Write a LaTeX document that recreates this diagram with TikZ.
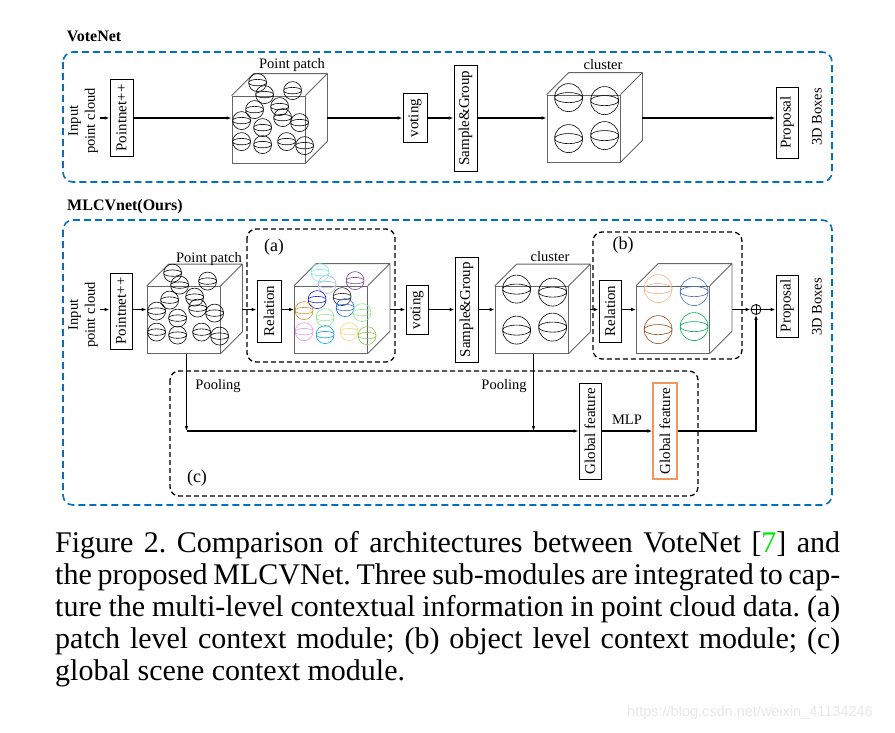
\documentclass[tikz,border=0pt]{standalone}
\usepackage{fontspec}
\setmainfont{Liberation Serif}
\setsansfont{Liberation Sans}
\usepackage{graphicx}
\usetikzlibrary{arrows.meta,calc}
\definecolor{vblue}{RGB}{0,112,192}
\definecolor{lgreen}{RGB}{0,230,0}
\definecolor{gforange}{RGB}{240,150,95}
\definecolor{sa}{RGB}{120,235,240}
\definecolor{sb}{RGB}{170,190,220}
\definecolor{sc}{RGB}{130,60,160}
\definecolor{sd}{RGB}{30,30,220}
\definecolor{se}{RGB}{40,40,40}
\definecolor{sf}{RGB}{40,110,220}
\definecolor{sg}{RGB}{150,230,150}
\definecolor{sh}{RGB}{200,150,40}
\definecolor{si}{RGB}{240,150,240}
\definecolor{sj}{RGB}{20,160,230}
\definecolor{sk}{RGB}{250,210,130}
\definecolor{sl}{RGB}{140,200,80}
\definecolor{ta}{RGB}{244,177,131}
\definecolor{tb}{RGB}{68,114,196}
\definecolor{tc}{RGB}{150,80,30}
\definecolor{td}{RGB}{0,176,80}
\newcommand\cubeback[1]{%
  \draw[cubeline] (#1.north west) -- ++(22,-22) -- ($(#1.north east)+(22,-22)$) -- (#1.north east)
    ($(#1.north east)+(22,-22)$) -- ($(#1.south east)+(22,-22)$) -- (#1.south east);
  \coordinate (#1r) at ($(#1.east)+(22,0)$);}
\newcommand\patchspheres[2]{%
  \foreach \dx/\dy/\cc in {#2}
    \draw[sph,\cc] ($(#1.north west)+(\dx,\dy)$) circle[radius=9pt] ellipse[x radius=9pt, y radius=3.2pt];}
\newcommand\clusterspheres[2]{%
  \foreach \dx/\dy/\cc in {#2}
    \draw[sph,\cc] ($(#1.north west)+(\dx,\dy)$) circle[radius=14pt] ellipse[x radius=14pt, y radius=5pt];}
\begin{document}
\begin{tikzpicture}[x=1pt,y=-1pt,
  lbl/.style={inner sep=0pt, font=\fontsize{14.5}{17}\selectfont},
  boxlbl/.style={draw, line width=0.9pt, inner sep=0pt, font=\fontsize{15}{17}\selectfont},
  cubefront/.style={draw=black!60, line width=0.8pt, inner sep=0pt, minimum width=73pt, minimum height=67pt},
  cubeline/.style={draw=black!60, line width=0.8pt, line join=round},
  conn/.style={line width=1.1pt, -{Latex[length=5pt,width=3.6pt]}},
  sph/.style={line width=0.6pt},
  bluebox/.style={draw=vblue, line width=1.6pt, dash pattern=on 7pt off 4pt, rounded corners=10pt},
  blkbox/.style={draw=black, line width=1.3pt, dash pattern=on 5pt off 3pt, rounded corners=9pt},
  title/.style={inner sep=0pt, font=\bfseries\fontsize{16}{18}\selectfont},
  tag/.style={inner sep=0pt, font=\fontsize{18}{20}\selectfont},
]
\fill[white] (0,0) rectangle (895,732);
\useasboundingbox (0,0) rectangle (895,732);

%% ---------------- VoteNet ----------------
\node[title] (t1) at (94,36) {VoteNet};
\draw[bluebox] (63,52) rectangle (832,182);

\node[lbl] (in1) at (83,121) {\rotatebox{90}{\begin{tabular}{@{}c@{}}Input\\point cloud\end{tabular}}};
\node[boxlbl, minimum width=23pt, minimum height=77pt] (pn1) at (121.5,118) {\rotatebox{90}{Pointnet++}};
\node[cubefront] (cA) at (268.5,129.5) {};
\cubeback{cA}
\patchspheres{cA}{26/-13/black,33/-1/black,61/-5/black,23/14/black,48/11/black,51/22/black,68/27/black,10/25/black,31/32/black,10/46/black,31/49/black,55/46/black,73/50/black}
\node[lbl] (pp1) at (292,65) {Point patch};
\node[boxlbl, minimum width=24pt, minimum height=49pt] (vot1) at (415,118) {\rotatebox{90}{voting}};
\node[boxlbl, minimum width=23pt, minimum height=106pt] (sg1) at (465.5,118) {\rotatebox{90}{Sample\&Group}};
\node[cubefront] (clA) at (583.5,128.5) {};
\cubeback{clA}
\clusterspheres{clA}{22/3/black,58/6/black,22/44/black,58/41/black}
\node[lbl] (clt1) at (603,65) {cluster};
\node[boxlbl, minimum width=22pt, minimum height=71pt] (prop1) at (787,122.5) {\rotatebox{90}{Proposal}};
\node[lbl] (bx1) at (817,117) {\rotatebox{90}{3D Boxes}};

\draw[conn] (in1.east |- sg1) -- (sg1 -| pn1.west);
\draw[conn] (sg1 -| pn1.east) -- (sg1 -| cA.west);
\draw[conn] (sg1 -| cAr) -- (sg1 -| vot1.west);
\draw[conn] (sg1 -| vot1.east) -- (sg1.west);
\draw[conn] (sg1.east) -- (sg1 -| clA.west);
\draw[conn] (sg1 -| clAr) -- (sg1 -| prop1.west);

%% ---------------- MLCVnet ----------------
\node[title] (t2) at (125,207) {MLCVnet(Ours)};
\draw[bluebox] (63,220) rectangle (832,505);
\draw[blkbox] (247,229) rectangle (395,362);
\draw[blkbox] (593,232) rectangle (742,359);
\draw[blkbox] (170,371) rectangle (698,496);
\node[tag] (ta) at (274,247) {(a)};
\node[tag] (tb) at (623,245) {(b)};
\node[tag] (tc) at (197,478) {(c)};

\node[lbl] (in2) at (83,315) {\rotatebox{90}{\begin{tabular}{@{}c@{}}Input\\point cloud\end{tabular}}};
\node[boxlbl, minimum width=22pt, minimum height=76pt] (pn2) at (121,311) {\rotatebox{90}{Pointnet++}};
\node[cubefront] (c1) at (183.5,320) {};
\cubeback{c1}
\patchspheres{c1}{26/-13/black,33/-1/black,61/-5/black,23/14/black,48/11/black,51/22/black,68/27/black,10/25/black,31/32/black,10/46/black,31/49/black,55/46/black,73/50/black}
\node[lbl] (pp2) at (209,259) {Point patch};
\node[boxlbl, minimum width=24pt, minimum height=62pt] (rel1) at (269,311) {\rotatebox{90}{Relation}};
\node[cubefront] (c2) at (331,319.5) {};
\cubeback{c2}
\patchspheres{c2}{26/-13/sa,33/-1/sb,61/-5/sc,23/14/sd,48/11/se,51/22/sf,68/27/sg,10/25/sh,31/32/sg,10/46/si,31/49/sj,55/46/sk,73/50/sl}
\node[boxlbl, minimum width=22pt, minimum height=49pt] (vot2) at (417,310) {\rotatebox{90}{voting}};
\node[boxlbl, minimum width=23pt, minimum height=105pt] (sg2) at (466.5,309.5) {\rotatebox{90}{Sample\&Group}};
\node[cubefront] (cl2) at (531.5,320) {};
\cubeback{cl2}
\clusterspheres{cl2}{22/3/black,58/6/black,22/44/black,58/41/black}
\node[lbl] (clt2) at (550,257) {cluster};
\node[boxlbl, minimum width=22pt, minimum height=62pt] (rel2) at (610,311) {\rotatebox{90}{Relation}};
\node[cubefront] (c3) at (673,319.5) {};
\cubeback{c3}
\clusterspheres{c3}{22/3/ta,58/6/tb,22/44/tc,58/41/td}
\node[circle, draw, line width=0.8pt, minimum size=10pt, inner sep=0pt] (op) at (756,309.5) {};
\draw[line width=0.6pt] (op.west) -- (op.east) (op.north) -- (op.south);
\node[boxlbl, minimum width=22pt, minimum height=62pt] (prop2) at (787,306) {\rotatebox{90}{Proposal}};
\node[lbl] (bx2) at (817,307) {\rotatebox{90}{3D Boxes}};

\node[boxlbl, minimum width=22pt, minimum height=96pt] (gf1) at (590,431) {\rotatebox{90}{Global feature}};
\node[draw=gforange, line width=1.1pt, inner sep=0pt, font=\fontsize{15}{17}\selectfont, text=black, minimum width=24pt, minimum height=96pt] (gf2) at (665,431) {\rotatebox{90}{Global feature}};
\node[lbl] (pl1) at (218,386) {Pooling};
\node[lbl] (pl2) at (504,386) {Pooling};

\draw[conn] (in2.east |- sg2) -- (sg2 -| pn2.west);
\draw[conn] (sg2 -| pn2.east) -- (sg2 -| c1.west);
\draw[conn] (sg2 -| c1r) -- (sg2 -| rel1.west);
\draw[conn] (sg2 -| rel1.east) -- (sg2 -| c2.west);
\draw[conn] (sg2 -| c2r) -- (sg2 -| vot2.west);
\draw[conn] (sg2 -| vot2.east) -- (sg2.west);
\draw[conn] (sg2.east) -- (sg2 -| cl2.west);
\draw[conn] (sg2 -| cl2r) -- (sg2 -| rel2.west);
\draw[conn] (sg2 -| rel2.east) -- (sg2 -| c3.west);
\draw[conn] (sg2 -| c3r) -- (op.west);
\draw[conn] (op.east) -- (op -| prop2.west);

\coordinate (p1) at ([xshift=3pt]c1.south);
\coordinate (p2) at ([xshift=2pt]cl2.south);
\draw[conn] (p1) -- (p1 |- gf1.west);
\draw[conn] (p2) -- (p2 |- gf1.west);
\draw[conn] (p1 |- gf1.west) -- (gf1.west);
\draw[conn] (gf1.east) -- node[lbl, above=6pt] (mlp) {MLP} (gf2.west);
\draw[conn] (gf2.east) -- (gf2.east -| op.south) -- (op.south);

%% ---------------- caption ----------------
\node[anchor=north west, inner sep=0pt, align=left, font=\fontsize{30}{32}\selectfont\frenchspacing] (cap) at (55,531)
 {\makebox[785pt][s]{Figure 2. Comparison of architectures between VoteNet [{\color{lgreen}7}] and}\\
  \makebox[785pt][s]{the proposed MLCVNet. Three sub-modules are integrated to cap-}\\
  \makebox[785pt][s]{ture the multi-level contextual information in point cloud data. (a)}\\
  \makebox[785pt][s]{patch level context module; (b) object level context module; (c)}\\
  global scene context module.};
\node[font=\sffamily\fontsize{14.5}{16}\selectfont, text=black!9, inner sep=0pt] (wm) at (750,713) {https://blog.csdn.net/weixin\_41134246};
\end{tikzpicture}
\end{document}
